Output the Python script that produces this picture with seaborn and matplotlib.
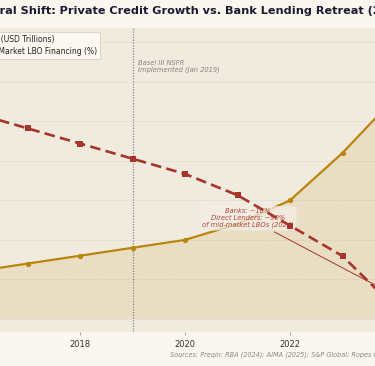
import numpy as np
import pandas as pd
import matplotlib
matplotlib.use("Agg")
import matplotlib.pyplot as plt
import seaborn as sns

# ---------------------------------------------------------------
# Data
# ---------------------------------------------------------------
years = [2016, 2017, 2018, 2019, 2020, 2021, 2022, 2023, 2024]
private_credit_aum = [0.6, 0.7, 0.8, 0.9, 1.0, 1.2, 1.5, 2.1, 2.8]   # USD trillions
bank_lbo_share = [72, 67, 62, 57, 52, 45, 35, 25, 8]                # % of mid-market LBOs
x_ticks = [2018, 2020, 2022]

title_text = "Structural Shift: Private Credit Growth vs. Bank Lending Retreat (2016\u20132024)"
aum_label = "Private Credit AUM (USD Trillions)"
bank_label = "Bank Share of Mid-Market LBO Financing (%)"
basel_text = "Basel III NSFR\nImplemented (Jan 2019)"
shift_text = "Banks: ~10%\nDirect Lenders: ~90%\nof mid-market LBOs (2024)"
source_text = "Sources: Preqin; RBA (2024); AIMA (2025); S&P Global; Ropes Gray"

df = pd.DataFrame({"year": years, "aum": private_credit_aum, "bank": bank_lbo_share})

# colours
GOLD = "#b8860b"
RED = "#a8352c"
AX_BG = "#f1eadf"
FIG_BG = "#faf7f1"

sns.set_style("white")
plt.rcParams["font.family"] = ["DejaVu Sans"]

W, H = 375, 366
fig = plt.figure(figsize=(W / 100, H / 100), dpi=100, facecolor=FIG_BG)

# axes runs past the figure edges (the reference is a crop of a wider chart)
ax_left, ax_right, ax_top, ax_bottom = -46, 416, 28, 332
ax = fig.add_axes([ax_left / W, 1 - ax_bottom / H, (ax_right - ax_left) / W, (ax_bottom - ax_top) / H])
ax.set_facecolor(AX_BG)
ax2 = ax.twinx()

# private credit AUM on the left axis
ax.fill_between(df["year"], df["aum"], 0, color=GOLD, alpha=0.13, lw=0, zorder=1)
sns.lineplot(data=df, x="year", y="aum", ax=ax, color=GOLD, lw=1.6, marker="o",
             markersize=3.8, markeredgewidth=0, label=aum_label, zorder=3, legend=False)

# bank share on the right axis
sns.lineplot(data=df, x="year", y="bank", ax=ax2, color=RED, lw=1.9, marker="s",
             markersize=4.8, markeredgewidth=0, dashes=False, label=bank_label, legend=False)
ax2.lines[0].set_linestyle((0, (4, 2)))

ax.set_xlim(2015.6, 2024.4)
ax.set_ylim(-0.165, 3.68)
ax2.set_ylim(0, 100)

ax.set_yticks([0, 0.5, 1.0, 1.5, 2.0, 2.5, 3.0, 3.5])
ax.grid(axis="y", color="#d9d1c4", lw=0.5, linestyle=(0, (1, 1)))
ax.set_xticks(x_ticks)
ax.set_xticklabels([str(y) for y in x_ticks], fontsize=6, color="#333333")
ax.tick_params(axis="x", length=2.5, width=0.6, color="#999999", pad=3, bottom=True)
ax.tick_params(axis="y", left=False, labelleft=False)
ax2.tick_params(axis="y", right=False, labelright=False)
ax.set_xlabel("")
ax.set_ylabel("")
ax2.set_ylabel("")
for a in (ax, ax2):
    for s in a.spines.values():
        s.set_visible(False)

# Basel III marker
ax.axvline(2019, color="#888888", lw=0.9, linestyle=(0, (1, 1.2)), zorder=2)
ax.text(2019.1, 3.28, basel_text, fontsize=4.9, style="italic", color="#858585",
        va="top", ha="left", linespacing=1.1)

# annotation of the 2024 split
ax2.annotate(shift_text, xy=(2024, 12), xytext=(2021.2, 37.5),
             fontsize=4.9, style="italic", color="#b0463d", ha="center", va="center",
             linespacing=1.1, zorder=1,
             bbox=dict(boxstyle="round,pad=0.4", fc="#f4eee5", ec="none", alpha=0.75),
             arrowprops=dict(arrowstyle="-", color=RED, lw=0.7))
for ln in ax2.lines:
    ln.set_zorder(4)

# legend built from both axes, right edge sits at x=100px
h1, l1 = ax.get_legend_handles_labels()
h2, l2 = ax2.get_legend_handles_labels()
leg = ax2.legend(h1 + h2, l1 + l2, loc="upper right", bbox_to_anchor=(100 / W, 1 - 32 / H),
                 bbox_transform=fig.transFigure, fontsize=5.5, frameon=True, fancybox=True,
                 borderpad=0.4, labelspacing=0.4, handlelength=2.5, borderaxespad=0)
leg.get_frame().set_facecolor("#fffdf9")
leg.get_frame().set_edgecolor("#cfc6b8")
leg.get_frame().set_linewidth(0.6)
for t in leg.get_texts():
    t.set_color("#222222")

# title: shift left so that the cropped part matches
renderer = fig.canvas.get_renderer()
probe = fig.text(0, 0, "Structu", fontsize=8.1, fontweight="bold")
offset = probe.get_window_extent(renderer).width
probe.remove()
fig.text(-offset / W, 1 - 11 / H, title_text, fontsize=8.1, fontweight="bold",
         color="#1a1a2e", ha="left", va="center")

fig.text(170 / W, 1 - 355 / H, source_text, fontsize=4.72, style="italic",
         color="#888888", ha="left", va="center")

fig.savefig("out.png", dpi=100, facecolor=FIG_BG)
